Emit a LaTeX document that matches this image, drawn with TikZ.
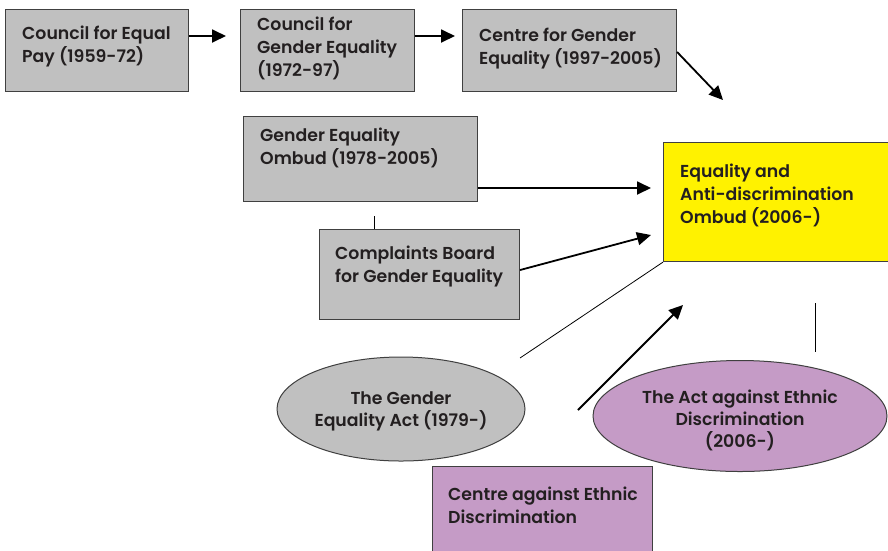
\documentclass[tikz,border=0pt]{standalone}
\usepackage{fontspec}
\setmainfont{Poppins}[BoldFont={Poppins SemiBold}]
\usetikzlibrary{shapes.geometric,arrows.meta,calc}
\definecolor{boxgray}{HTML}{C0C0C0}
\definecolor{edgegray}{HTML}{404040}
\definecolor{ombyellow}{HTML}{FFF200}
\definecolor{lilac}{HTML}{C59BC6}
\definecolor{ink}{HTML}{231F20}
\tikzset{
  box/.style={draw=edgegray, line width=1.1pt, fill=boxgray, anchor=north west, inner sep=0pt},
  txt/.style={anchor=north west, align=left, inner sep=0pt, text=ink, font=\fontsize{17.3}{23}\selectfont\bfseries},
  ctxt/.style={align=center, inner sep=0pt, text=ink, font=\fontsize{17.3}{22}\selectfont\bfseries},
  oval/.style={ellipse, draw=edgegray, line width=1pt, inner sep=0pt},
  arr/.style={line width=1.8pt, -{Triangle[length=14pt,width=13pt]}},
  thin/.style={line width=0.8pt}
}
\begin{document}
\begin{tikzpicture}[x=1pt,y=-1pt]
\clip (0,0) rectangle (888,550);
\fill[white] (0,0) rectangle (888,550);
% top row
\node[box, minimum width=183pt, minimum height=82pt] (b1) at (5,9) {};
\node[txt] (t1) at (22,26) {Council for Equal\\Pay (1959-72)};
\node[box, minimum width=174pt, minimum height=82pt] (b2) at (240,9) {};
\node[txt] (t2) at (257,17) {Council for\\Gender Equality\\(1972-97)};
\node[box, minimum width=214pt, minimum height=82pt] (b3) at (462,9) {};
\node[txt] (t3) at (479,28) {Centre for Gender\\Equality (1997-2005)};
% middle
\node[box, minimum width=234pt, minimum height=85pt] (b4) at (243,116) {};
\node[txt] (t4) at (260,128) {Gender Equality\\Ombud (1978-2005)};
\node[box, minimum width=200pt, minimum height=90pt] (b5) at (319,229) {};
\node[txt] (t5) at (335,246) {Complaints Board\\for Gender Equality};
\node[box, fill=ombyellow, minimum width=240pt, minimum height=119pt] (y) at (663,142) {};
\node[txt] (ty) at (680,164) {Equality and\\Anti-discrimination\\Ombud (2006-)};
% ovals
\node[oval, fill=boxgray, minimum width=248pt, minimum height=104pt] (e1) at (401,409) {};
\node[ctxt] (te1) at (401,411) {The Gender\\Equality Act (1979-)};
\node[oval, fill=lilac, minimum width=294pt, minimum height=111pt] (e2) at (740,416) {};
\node[ctxt] (te2) at (740,420) {The Act against Ethnic\\Discrimination\\(2006-)};
% bottom lilac box
\node[box, fill=lilac, minimum width=220pt, minimum height=100pt] (b6) at (432,466) {};
\node[txt] (t6) at (448,487) {Centre against Ethnic\\Discrimination};
% connector end points
\coordinate (p12) at (226,36);
\coordinate (p23) at (455,36);
\coordinate (p3y) at (723,100);
\coordinate (p4y) at (651,188);
\coordinate (p5y) at (651,235);
\coordinate (ps) at (578,410);
\coordinate (pe) at (683,305);
\coordinate (lt) at (520,358);
\coordinate (va) at (815,303);
\coordinate (vb) at (815,352);
% connectors
\draw[arr] (b1.east |- p12) -- (p12);
\draw[arr] (b2.east |- p23) -- (p23);
\draw[arr] ($(b3.north east)+(0,43)$) -- (p3y);
\draw[arr] (b4.east |- p4y) -- (p4y);
\draw[arr] ($(b5.north east)+(0,41)$) -- (p5y);
\draw[thin] (y.south west) -- (lt);
\draw[arr] (ps) -- (pe);
\draw[thin] (va) -- (vb);
\draw[thin] ($(b4.south west)+(131,14)$) -- ($(b5.north west)+(55,0)$);
\end{tikzpicture}
\end{document}
